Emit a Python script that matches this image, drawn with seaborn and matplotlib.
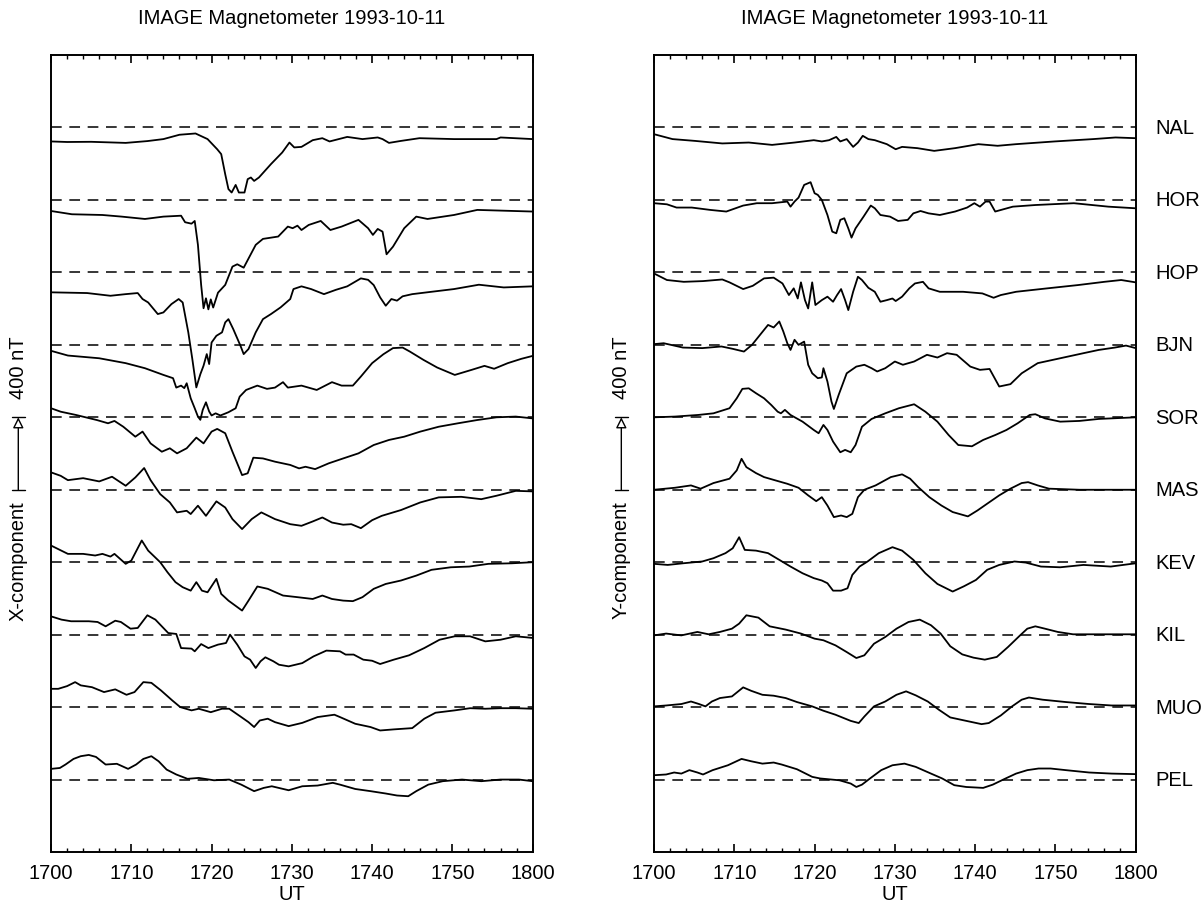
import numpy as np
import pandas as pd
import matplotlib
matplotlib.use("Agg")
import matplotlib.pyplot as plt
import seaborn as sns
from matplotlib.transforms import blended_transform_factory
from matplotlib.ticker import FixedLocator, MultipleLocator

sns.set_theme(style="ticks")
plt.rcParams["font.family"] = ["Liberation Sans", "DejaVu Sans"]
plt.rcParams["text.color"] = "black"
plt.rcParams["axes.labelcolor"] = "black"
plt.rcParams["xtick.color"] = "black"
plt.rcParams["ytick.color"] = "black"

# ---------------- data ----------------
stations = ["NAL", "HOR", "HOP", "BJN", "SOR", "MAS", "KEV", "KIL", "MUO", "PEL"]
offset_step = 400  # nT between stacked traces (= scale bar)
tick_minutes = [0, 10, 20, 30, 40, 50, 60]
tick_labels = ["1700", "1710", "1720", "1730", "1740", "1750", "1800"]
title_text = "IMAGE Magnetometer 1993-10-11"
scale_text = "400 nT"

# X component (minutes after 1700 UT, nT relative to baseline)
x_nal_t = [0, 2, 5, 9.3, 12, 14, 16, 18, 19.5, 20.7, 21.2, 21.7, 22.1, 22.5, 23, 23.4, 24.1, 24.5, 24.9, 25.3, 25.9, 27.4, 28.8, 29.7, 30.3, 31.2, 32.6, 33.8, 34.7, 36.9, 38.8, 40.7, 41.3, 42.1, 43.6, 45.9, 50.2, 55.5, 56, 60]
x_nal_v = [-77, -80, -79, -85, -75, -64, -40, -33, -64, -120, -147, -258, -340, -359, -317, -359, -359, -285, -276, -295, -276, -202, -138, -83, -110, -107, -70, -59, -77, -52, -64, -55, -64, -85, -74, -59, -64, -64, -55, -64]

x_hor_t = [0, 2.6, 6.4, 8.8, 11.7, 14.0, 16.2, 16.7, 17.5, 17.9, 18.3, 18.7, 19.0, 19.3, 19.6, 19.9, 20.2, 20.8, 21.7, 22.6, 23.2, 24.0, 25.5, 26.4, 28.3, 29.5, 30.1, 30.7, 31.2, 32.1, 33.6, 34.8, 36.2, 38.3, 39.5, 40.1, 40.7, 41.3, 41.8, 42.6, 44.0, 45.5, 46.9, 50.2, 53.1, 60]
x_hor_v = [-61, -79, -83, -92, -105, -92, -87, -123, -131, -116, -248, -469, -598, -543, -604, -549, -594, -512, -469, -368, -355, -374, -248, -215, -202, -147, -156, -142, -166, -138, -116, -166, -147, -110, -156, -193, -160, -175, -300, -258, -156, -92, -105, -83, -55, -64]

x_hop_t = [0, 4.5, 7.4, 9.3, 10.8, 11.4, 12.1, 13.3, 14.0, 15.0, 15.9, 16.4, 17.1, 17.6, 18.1, 18.6, 19.0, 19.4, 19.7, 20.0, 20.6, 21.3, 21.7, 22.1, 22.7, 23.6, 24.0, 24.6, 25.5, 26.4, 27.4, 28.6, 29.8, 30.2, 31.2, 32.4, 34.0, 35.5, 36.9, 38.6, 39.5, 40.2, 41.0, 41.7, 42.4, 43.1, 43.8, 45.0, 47.4, 50.2, 53.3, 56.4, 60]
x_hop_v = [-110, -114, -129, -120, -114, -147, -166, -230, -221, -175, -147, -166, -331, -478, -635, -562, -515, -451, -506, -387, -350, -331, -276, -258, -313, -405, -451, -423, -331, -258, -230, -193, -147, -92, -77, -92, -120, -96, -77, -33, -41, -70, -138, -184, -147, -156, -132, -120, -107, -92, -68, -83, -77]

x_bjn_t = [0, 2.1, 6.0, 9.3, 11.7, 14.0, 15.2, 15.6, 16.2, 16.6, 16.9, 17.4, 17.9, 18.3, 18.6, 18.9, 19.3, 19.7, 20.0, 20.5, 21.1, 22.1, 23.0, 23.5, 24.3, 25.7, 26.9, 27.9, 28.9, 29.5, 31.2, 33.1, 35.0, 36.2, 37.6, 38.6, 40.0, 41.4, 42.6, 43.8, 44.7, 46.4, 48.1, 50.3, 52.4, 54.0, 55.2, 56.9, 58.6, 60]
x_bjn_v = [-33, -59, -74, -101, -129, -166, -184, -236, -225, -239, -212, -295, -350, -396, -414, -359, -317, -368, -390, -378, -390, -372, -350, -286, -249, -225, -243, -236, -206, -236, -225, -249, -206, -225, -225, -175, -101, -52, -18, -15, -37, -83, -125, -166, -138, -116, -132, -101, -77, -61]

x_sor_t = [0, 1.2, 3.1, 5.7, 7.1, 7.9, 9.0, 10.5, 11.4, 12.4, 13.8, 14.8, 15.7, 16.9, 18.1, 19.0, 20.0, 20.7, 21.7, 22.6, 23.8, 24.5, 25.2, 26.4, 27.9, 29.8, 30.9, 31.7, 32.9, 34.6, 36.4, 38.3, 40.2, 42.1, 44.0, 46.0, 48.3, 50.7, 53.1, 55.5, 57.9, 60]
x_sor_v = [50, 31, 13, -15, -33, -20, -52, -107, -79, -144, -190, -171, -199, -171, -112, -144, -79, -64, -88, -190, -319, -309, -223, -227, -245, -263, -282, -273, -286, -254, -227, -199, -153, -125, -107, -79, -52, -33, -15, 0, 4, -6]

x_mas_t = [0, 1.2, 2.1, 4.0, 6.0, 7.6, 9.3, 10.5, 11.6, 12.4, 13.6, 14.8, 15.7, 16.9, 17.4, 18.3, 19.3, 20.6, 21.7, 22.6, 23.8, 25.0, 26.2, 27.9, 29.8, 31.2, 32.6, 33.8, 35.0, 36.4, 37.4, 38.6, 40.0, 41.2, 43.6, 46.0, 48.3, 51.1, 53.6, 55.5, 57.9, 60]
x_mas_v = [96, 77, 53, 64, 46, 72, 22, 68, 120, 53, -24, -70, -125, -116, -134, -88, -144, -64, -98, -162, -217, -162, -125, -162, -190, -199, -175, -153, -181, -193, -190, -212, -168, -144, -112, -70, -42, -39, -52, -33, -6, -9]

x_kev_t = [0, 2.1, 4.0, 5.5, 6.4, 7.4, 7.9, 9.3, 10.0, 11.3, 12.1, 13.6, 14.5, 15.5, 16.4, 17.4, 18.1, 18.8, 19.5, 20.6, 21.2, 22.1, 23.8, 24.6, 25.7, 27.0, 28.9, 30.7, 32.6, 33.8, 35.0, 36.4, 37.6, 38.8, 40.2, 41.7, 43.6, 45.5, 47.4, 49.8, 52.1, 54.5, 57.4, 60]
x_kev_v = [92, 46, 46, 37, 46, 31, 46, -9, 9, 120, 64, 0, -55, -110, -138, -157, -110, -157, -166, -92, -175, -212, -267, -212, -134, -147, -184, -193, -203, -184, -203, -212, -215, -193, -147, -120, -101, -74, -42, -28, -24, -9, -6, 0]

x_kil_t = [0, 1.3, 2.5, 4.7, 5.8, 6.8, 8.0, 8.7, 9.9, 10.8, 12.0, 13.0, 14.6, 15.6, 16.2, 17.5, 17.9, 18.7, 19.6, 20.8, 21.8, 22.3, 23.2, 24.1, 24.8, 25.5, 26.1, 26.7, 27.7, 28.4, 29.6, 31.3, 32.7, 34.3, 36.0, 36.7, 37.7, 38.9, 40.0, 41.0, 42.7, 44.6, 46.5, 48.4, 50.3, 52.2, 54.1, 56.0, 57.9, 60]
x_kil_v = [101, 83, 74, 74, 70, 46, 77, 70, 33, 37, 107, 83, 9, 4, -74, -77, -92, -52, -74, -55, -46, 0, -55, -120, -138, -184, -147, -125, -147, -166, -175, -157, -120, -88, -92, -110, -110, -138, -144, -162, -138, -114, -74, -28, -9, -9, -37, -28, -9, -18]

x_muo_t = [0, 0.9, 2.0, 3.0, 3.7, 5.1, 6.6, 8.0, 9.4, 10.4, 11.5, 12.5, 13.7, 15.1, 16.1, 17.5, 18.4, 19.9, 21.3, 22.2, 23.7, 24.6, 25.3, 26.0, 27.0, 27.9, 29.6, 31.3, 33.2, 35.3, 36.0, 37.9, 39.8, 41.0, 42.7, 45.0, 46.5, 47.9, 50.3, 52.2, 54.1, 56.0, 57.9, 60]
x_muo_v = [101, 101, 116, 138, 120, 110, 83, 98, 68, 83, 138, 134, 92, 37, 0, -18, -9, -28, -9, -9, -55, -83, -110, -74, -64, -83, -105, -87, -55, -42, -55, -92, -110, -129, -123, -116, -64, -31, -18, -6, -9, -6, -6, -9]

x_pel_t = [0, 1.1, 1.8, 2.8, 3.7, 4.7, 5.6, 6.8, 8.2, 9.6, 10.6, 11.5, 12.5, 13.4, 14.4, 15.6, 17.0, 18.4, 20.3, 22.2, 23.7, 25.3, 26.5, 27.5, 29.6, 31.3, 33.2, 35.1, 36.0, 37.9, 39.8, 41.7, 43.1, 44.5, 45.5, 47.0, 48.8, 51.2, 53.6, 56.0, 58.3, 60]
x_pel_v = [59, 64, 83, 114, 129, 136, 125, 83, 87, 59, 83, 114, 129, 101, 55, 28, 4, 9, -4, 0, -28, -64, -46, -37, -59, -37, -33, -18, -28, -52, -64, -77, -88, -92, -64, -28, -9, 0, -9, 0, 0, -9]

# Y component
y_nal_t = [0, 2.3, 5.1, 8.5, 11.8, 14.7, 17.5, 19.9, 20.9, 21.8, 22.7, 23.2, 24.0, 24.8, 25.4, 26.0, 26.7, 27.5, 29.0, 30.1, 30.9, 32.8, 34.9, 37.5, 40.4, 42.8, 45.1, 49.9, 54.7, 57.5, 60]
y_nal_v = [-37, -64, -74, -88, -83, -96, -83, -70, -77, -70, -52, -77, -64, -107, -83, -46, -64, -70, -92, -120, -107, -114, -129, -114, -92, -101, -92, -77, -64, -55, -59]

y_hor_t = [0, 1.6, 2.8, 4.7, 7.0, 9.0, 11.1, 12.8, 14.7, 16.6, 17.0, 17.5, 18.0, 18.7, 19.5, 20.0, 20.4, 20.9, 21.6, 22.2, 22.7, 23.2, 23.7, 24.2, 24.6, 25.1, 26.1, 27.0, 27.5, 28.2, 29.4, 30.4, 31.6, 32.3, 33.2, 34.2, 35.6, 37.5, 39.0, 39.9, 40.6, 41.3, 41.8, 42.5, 44.7, 47.5, 52.3, 56.6, 60]
y_hor_v = [-18, -24, -42, -42, -55, -64, -31, -18, -18, -9, -37, -9, 13, 83, 98, 37, 28, 0, -83, -175, -184, -110, -101, -157, -208, -157, -92, -31, -46, -83, -92, -116, -110, -74, -61, -74, -83, -64, -42, -18, -37, -9, -9, -64, -37, -28, -18, -37, -46]

y_hop_t = [0, 1.6, 3.7, 6.1, 8.5, 9.4, 11.1, 12.3, 13.7, 14.9, 16.0, 16.8, 17.4, 17.9, 18.3, 18.8, 19.2, 19.7, 20.1, 20.9, 21.6, 22.3, 22.8, 23.3, 23.8, 24.2, 24.8, 25.4, 25.9, 26.7, 27.5, 28.2, 29.0, 29.7, 30.1, 30.9, 31.8, 32.5, 33.5, 34.2, 35.6, 38.5, 40.9, 42.3, 43.2, 45.1, 49.0, 52.8, 56.1, 58.2, 60]
y_hop_v = [-6, -42, -52, -48, -39, -55, -92, -74, -33, -29, -61, -125, -88, -144, -55, -153, -199, -55, -180, -153, -134, -162, -125, -92, -153, -208, -107, -24, -42, -85, -107, -162, -153, -144, -158, -134, -88, -61, -52, -88, -107, -107, -116, -140, -125, -107, -88, -70, -52, -42, -55]

y_bjn_t = [0, 1.2, 3.6, 6.0, 8.4, 9.8, 11.2, 12.2, 13.2, 14.2, 14.9, 15.6, 16.1, 16.6, 17.0, 17.5, 18.0, 18.7, 19.2, 19.7, 20.4, 20.9, 21.1, 21.6, 22.1, 22.4, 23.0, 24.0, 25.2, 26.2, 27.1, 27.8, 28.8, 30.0, 31.0, 32.4, 34.0, 35.3, 36.5, 37.7, 39.4, 40.6, 41.8, 43.0, 44.4, 45.8, 47.8, 50.6, 53.5, 55.4, 57.4, 58.8, 60]
y_bjn_v = [4, 9, -15, -18, -9, -22, -37, 0, 55, 110, 96, 129, 74, 9, -28, 28, 0, 18, -110, -157, -184, -180, -129, -203, -313, -354, -276, -157, -120, -110, -129, -147, -129, -92, -110, -92, -55, -70, -46, -55, -120, -138, -133, -230, -217, -157, -101, -74, -46, -28, -15, -4, -18]

y_sor_t = [0, 2.6, 5.5, 7.4, 9.4, 10.3, 11.0, 11.8, 12.7, 13.7, 14.6, 15.4, 15.8, 16.3, 17.0, 18.5, 19.9, 20.5, 21.1, 21.6, 22.3, 23.2, 23.8, 24.5, 25.1, 25.9, 27.1, 28.8, 30.5, 32.4, 33.8, 35.3, 36.7, 37.9, 39.6, 41.0, 42.5, 43.9, 45.3, 46.8, 47.5, 48.7, 50.6, 53.0, 55.4, 60]
y_sor_v = [0, 4, 13, 22, 50, 105, 157, 160, 133, 105, 68, 31, 22, 41, 13, -24, -70, -88, -42, -70, -134, -193, -180, -193, -153, -52, -9, 22, 50, 72, 31, -24, -98, -153, -160, -125, -98, -70, -33, 13, 17, -6, -24, -20, -9, 0]

y_mas_t = [0, 2.6, 4.6, 5.8, 7.4, 9.4, 10.3, 10.9, 11.5, 12.7, 13.7, 15.1, 16.6, 18.0, 19.2, 20.2, 20.9, 21.6, 22.4, 23.3, 24.0, 24.7, 25.4, 26.2, 27.6, 29.5, 30.9, 31.9, 32.9, 34.3, 35.8, 37.2, 39.1, 40.3, 41.5, 43.0, 44.4, 45.8, 46.6, 47.8, 49.2, 53.0, 60]
y_mas_v = [0, 11, 24, 6, 37, 61, 107, 171, 125, 92, 70, 52, 33, 11, -31, -63, -41, -87, -151, -142, -151, -133, -41, 0, 24, 70, 85, 61, 15, -41, -87, -123, -147, -114, -77, -31, 6, 37, 42, 24, 6, 0, 0]

y_kev_t = [0, 1.7, 3.6, 6.0, 7.4, 8.9, 9.8, 10.6, 11.3, 12.7, 14.2, 15.6, 17.0, 18.5, 19.9, 20.9, 21.6, 22.3, 23.3, 24.1, 24.7, 25.6, 26.6, 28.0, 29.7, 30.9, 32.3, 33.8, 35.3, 37.2, 38.6, 40.1, 41.5, 43.0, 44.9, 46.3, 48.2, 50.6, 53.5, 56.9, 60]
y_kev_v = [-9, -15, -6, 4, 22, 50, 77, 138, 68, 64, 50, 13, -24, -61, -88, -101, -116, -157, -157, -144, -70, -24, 4, 50, 83, 64, 13, -61, -120, -162, -133, -98, -42, -15, 4, -2, -24, -28, -15, -24, -6]

y_kil_t = [0, 1.5, 3.4, 5.4, 6.8, 8.2, 9.7, 10.6, 11.5, 13.0, 14.4, 16.4, 18.3, 20.0, 21.1, 22.6, 24.0, 25.2, 26.2, 27.4, 28.8, 30.2, 31.7, 33.1, 34.5, 35.7, 36.9, 38.4, 39.8, 41.2, 42.7, 44.1, 45.6, 46.5, 47.5, 48.7, 50.3, 52.2, 56.1, 60]
y_kil_v = [-4, 6, -4, 15, 2, 15, 33, 61, 107, 94, 46, 28, 6, -22, -31, -59, -96, -129, -114, -50, -13, 33, 70, 83, 52, 6, -64, -109, -127, -138, -123, -68, -4, 33, 46, 33, 15, 2, 2, 2]

y_muo_t = [0, 1.5, 3.4, 4.6, 5.6, 6.4, 7.2, 8.2, 9.7, 11.1, 12.1, 13.5, 14.9, 16.4, 17.8, 19.7, 21.1, 22.6, 24.5, 25.5, 26.2, 27.4, 28.8, 30.2, 31.4, 32.6, 34.1, 35.5, 36.9, 38.9, 40.8, 41.7, 43.2, 44.6, 45.8, 46.7, 48.4, 51.3, 54.2, 57.0, 60]
y_muo_v = [4, 9, 17, 31, 17, 4, 31, 50, 59, 109, 90, 68, 63, 50, 28, 4, -20, -42, -76, -88, -52, 4, 31, 68, 87, 65, 31, -15, -57, -76, -94, -88, -46, 4, 41, 53, 41, 28, 17, 9, 9]

y_pel_t = [0, 1.5, 2.5, 3.4, 4.4, 5.4, 6.1, 7.3, 9.2, 10.9, 12.1, 13.5, 14.9, 15.9, 17.8, 19.7, 20.7, 23.1, 24.5, 25.2, 25.9, 26.9, 28.3, 29.7, 31.2, 32.6, 34.5, 35.9, 37.4, 38.9, 41.0, 42.2, 43.6, 45.1, 46.5, 47.9, 49.4, 51.3, 54.2, 57.0, 60]
y_pel_v = [24, 28, 39, 33, 52, 39, 28, 52, 79, 114, 101, 88, 94, 83, 57, 15, 6, -4, -22, -41, -28, 6, 52, 79, 88, 70, 33, 6, -31, -41, -46, -28, 2, 33, 52, 61, 61, 52, 39, 33, 30]

x_data = {
    "NAL": (x_nal_t, x_nal_v), "HOR": (x_hor_t, x_hor_v), "HOP": (x_hop_t, x_hop_v),
    "BJN": (x_bjn_t, x_bjn_v), "SOR": (x_sor_t, x_sor_v), "MAS": (x_mas_t, x_mas_v),
    "KEV": (x_kev_t, x_kev_v), "KIL": (x_kil_t, x_kil_v), "MUO": (x_muo_t, x_muo_v),
    "PEL": (x_pel_t, x_pel_v),
}
y_data = {
    "NAL": (y_nal_t, y_nal_v), "HOR": (y_hor_t, y_hor_v), "HOP": (y_hop_t, y_hop_v),
    "BJN": (y_bjn_t, y_bjn_v), "SOR": (y_sor_t, y_sor_v), "MAS": (y_mas_t, y_mas_v),
    "KEV": (y_kev_t, y_kev_v), "KIL": (y_kil_t, y_kil_v), "MUO": (y_muo_t, y_muo_v),
    "PEL": (y_pel_t, y_pel_v),
}

# ---------------- figure ----------------
fig = plt.figure(figsize=(12.01, 9.04), dpi=100)
ax1 = fig.add_axes([0.0425, 0.0564, 0.401, 0.8816])
ax2 = fig.add_axes([0.5446, 0.0564, 0.401, 0.8816])

FS = 14.5
n = len(stations)
ymax = offset_step
ymin = -offset_step * n

for ax, comp, data, show_names in [(ax1, "X-component", x_data, False),
                                    (ax2, "Y-component", y_data, True)]:
    tr = blended_transform_factory(ax.transAxes, ax.transData)
    for i, st in enumerate(stations):
        base = -offset_step * i
        t, v = data[st]
        ax.axhline(base, color="black", lw=1.1, ls=(0, (7, 5)), zorder=1)
        df = pd.DataFrame({"t": t, "v": np.asarray(v, dtype=float) + base})
        sns.lineplot(data=df, x="t", y="v", ax=ax, color="black", lw=1.3,
                     estimator=None, sort=False, zorder=2)
        if show_names:
            ax.text(1.04, base, st, transform=tr, ha="left", va="center",
                    fontsize=FS, color="black")

    ax.set_xlim(0, 60)
    ax.set_ylim(ymin, ymax)
    ax.set_yticks([])
    ax.set_ylabel("")
    ax.xaxis.set_major_locator(FixedLocator(tick_minutes))
    ax.set_xticklabels(tick_labels)
    ax.xaxis.set_minor_locator(MultipleLocator(2))
    ax.tick_params(axis="x", which="both", direction="in", top=True, bottom=True,
                   color="black", labelcolor="black")
    ax.tick_params(axis="x", which="major", length=6, width=1.2, labelsize=FS, pad=8)
    ax.tick_params(axis="x", which="minor", length=3, width=1.0)
    ax.set_xlabel("UT", fontsize=FS, labelpad=1, color="black")
    ax.set_title(title_text, fontsize=FS, pad=23, color="black")
    for s in ax.spines.values():
        s.set_linewidth(1.4)
        s.set_color("black")

    # scale bar: 400 nT between the SOR and MAS baselines
    xb = -0.068
    y_lo = -offset_step * 5
    y_hi = -offset_step * 4
    ax.annotate("", xy=(xb, y_hi), xytext=(xb, y_lo), xycoords=tr, textcoords=tr,
                arrowprops=dict(arrowstyle="-|>", ec="black", fc="white", lw=1.0,
                                mutation_scale=16, shrinkA=0, shrinkB=0),
                annotation_clip=False)
    for yy in (y_lo, y_hi):
        ax.plot([xb - 0.013, xb + 0.013], [yy, yy], transform=tr, color="black",
                lw=1.0, clip_on=False)
    ax.text(xb, y_hi + 0.27 * offset_step, scale_text, transform=tr, rotation=90,
            ha="center", va="bottom", fontsize=FS, color="black")
    ax.text(xb, y_lo - 0.15 * offset_step, comp, transform=tr, rotation=90,
            ha="center", va="top", fontsize=FS, color="black")

fig.savefig("out.png", dpi=100, facecolor="white")
